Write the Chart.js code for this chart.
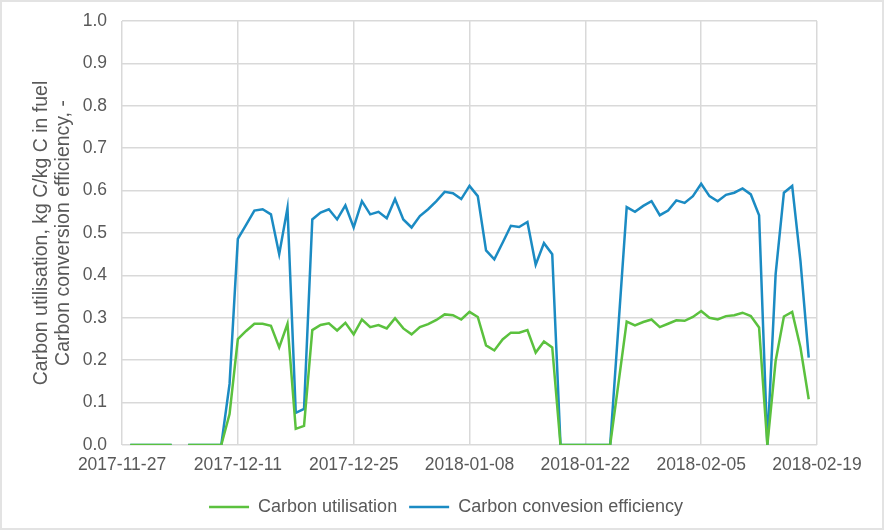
<!DOCTYPE html>
<html>
<head>
<meta charset="utf-8">
<script src="https://cdn.jsdelivr.net/npm/chart.js@4/dist/chart.umd.min.js"></script>
<style>
    html, body { margin: 0; padding: 0; background: #ffffff; }
    #wrap { width: 884px; height: 530px; position: relative; }
</style>
</head>
<body>
<div id="wrap"><canvas id="chart" width="884" height="530"></canvas></div>
<script>
// Data (daily readings, null = no value that day)
const startDate = '2017-11-27';
const dates = [
    '2017-11-28', '2017-11-29', '2017-11-30', '2017-12-01', '2017-12-02', '2017-12-03', '2017-12-04',
    '2017-12-05', '2017-12-06', '2017-12-07', '2017-12-08', '2017-12-09', '2017-12-10', '2017-12-11',
    '2017-12-12', '2017-12-13', '2017-12-14', '2017-12-15', '2017-12-16', '2017-12-17', '2017-12-18',
    '2017-12-19', '2017-12-20', '2017-12-21', '2017-12-22', '2017-12-23', '2017-12-24', '2017-12-25',
    '2017-12-26', '2017-12-27', '2017-12-28', '2017-12-29', '2017-12-30', '2017-12-31', '2018-01-01',
    '2018-01-02', '2018-01-03', '2018-01-04', '2018-01-05', '2018-01-06', '2018-01-07', '2018-01-08',
    '2018-01-09', '2018-01-10', '2018-01-11', '2018-01-12', '2018-01-13', '2018-01-14', '2018-01-15',
    '2018-01-16', '2018-01-17', '2018-01-18', '2018-01-19', '2018-01-20', '2018-01-21', '2018-01-22',
    '2018-01-23', '2018-01-24', '2018-01-25', '2018-01-26', '2018-01-27', '2018-01-28', '2018-01-29',
    '2018-01-30', '2018-01-31', '2018-02-01', '2018-02-02', '2018-02-03', '2018-02-04', '2018-02-05',
    '2018-02-06', '2018-02-07', '2018-02-08', '2018-02-09', '2018-02-10', '2018-02-11', '2018-02-12',
    '2018-02-13', '2018-02-14', '2018-02-15', '2018-02-16', '2018-02-17', '2018-02-18'
];
const carbonUtilisation = [
    0, 0, 0, 0, 0, 0, null,
    0, 0, 0, 0, 0, 0.073, 0.25,
    0.269, 0.286, 0.286, 0.281, 0.23, 0.286, 0.038,
    0.045, 0.271, 0.283, 0.287, 0.27, 0.288, 0.261,
    0.296, 0.278, 0.283, 0.275, 0.299, 0.275, 0.261,
    0.278, 0.285, 0.295, 0.308, 0.306, 0.296, 0.314,
    0.302, 0.235, 0.223, 0.249, 0.265, 0.265, 0.271,
    0.218, 0.244, 0.23, 0, 0, 0, 0,
    0, 0, 0, 0.145, 0.291, 0.282, 0.29,
    0.296, 0.278, 0.286, 0.294, 0.293, 0.302, 0.316,
    0.30, 0.296, 0.304, 0.306, 0.312, 0.304, 0.277,
    0, 0.198, 0.303, 0.314, 0.23, 0.108
];
const carbonConversion = [
    0, 0, 0, 0, 0, 0, null,
    0, 0, 0, 0, 0, 0.144, 0.486,
    0.519, 0.553, 0.556, 0.544, 0.45, 0.559, 0.076,
    0.085, 0.532, 0.548, 0.556, 0.532, 0.565, 0.513,
    0.575, 0.544, 0.55, 0.535, 0.58, 0.532, 0.513,
    0.54, 0.556, 0.575, 0.597, 0.594, 0.58, 0.611,
    0.587, 0.459, 0.438, 0.477, 0.517, 0.514, 0.526,
    0.425, 0.476, 0.45, 0, 0, 0, 0,
    0, 0, 0, 0.28, 0.561, 0.55, 0.564,
    0.575, 0.542, 0.553, 0.577, 0.571, 0.587, 0.616,
    0.587, 0.575, 0.59, 0.595, 0.605, 0.591, 0.542,
    0, 0.403, 0.595, 0.611, 0.434, 0.206
];
const tickLabels = ['2017-11-27', '2017-12-11', '2017-12-25', '2018-01-08', '2018-01-22', '2018-02-05', '2018-02-19'];

const DAY = 24 * 3600 * 1000;
const t0 = Date.parse(startDate);
const dayIndex = (d) => Math.round((Date.parse(d) - t0) / DAY);

function toPoints(values) {
    return dates.map((d, i) => ({ x: dayIndex(d), y: values[i] }));
}

const textColor = '#595959';
const gridColor = '#d9d9d9';
const family = 'Liberation Sans, Arial, sans-serif';
const font = { family: family, size: 17.5 };

// light frame around the whole chart
const framePlugin = {
    id: 'frame',
    beforeDraw(chart) {
        const ctx = chart.ctx;
        ctx.save();
        ctx.fillStyle = '#ffffff';
        ctx.fillRect(0, 0, chart.width, chart.height);
        ctx.strokeStyle = '#e3e3e3';
        ctx.lineWidth = 2;
        ctx.strokeRect(1, 1, chart.width - 2, chart.height - 2);
        ctx.restore();
    }
};

new Chart(document.getElementById('chart'), {
    type: 'line',
    data: {
        datasets: [
            {
                label: 'Carbon utilisation',
                data: toPoints(carbonUtilisation),
                borderColor: '#5bc13e',
                backgroundColor: '#5bc13e',
                borderWidth: 2.5,
                pointRadius: 0,
                tension: 0
            },
            {
                label: 'Carbon convesion efficiency',
                data: toPoints(carbonConversion),
                borderColor: '#1b8bc3',
                backgroundColor: '#1b8bc3',
                borderWidth: 2.5,
                pointRadius: 0,
                tension: 0
            }
        ]
    },
    options: {
        responsive: false,
        animation: false,
        layout: { padding: { left: 8, right: 0, top: 21, bottom: 4 } },
        plugins: {
            legend: {
                position: 'bottom',
                labels: {
                    color: textColor,
                    font: { family: family, size: 18 },
                    usePointStyle: true,
                    pointStyle: 'line',
                    pointStyleWidth: 40,
                    padding: 12
                }
            },
            tooltip: { enabled: false }
        },
        scales: {
            x: {
                type: 'linear',
                min: 0,
                max: dayIndex(tickLabels[tickLabels.length - 1]),
                afterBuildTicks: (scale) => {
                    scale.ticks = tickLabels.map(l => ({ value: dayIndex(l) }));
                },
                ticks: {
                    color: textColor,
                    font: font,
                    padding: 10,
                    maxRotation: 0,
                    autoSkip: false,
                    callback: (v) => tickLabels.find(l => dayIndex(l) === v) || ''
                },
                grid: { color: gridColor, lineWidth: 1.5, drawTicks: false },
                border: { display: false },
                afterFit: (scale) => { scale.height = 41; }
            },
            y: {
                min: 0,
                max: 1,
                ticks: {
                    stepSize: 0.1,
                    color: textColor,
                    font: font,
                    padding: 15,
                    callback: (v) => v.toFixed(1)
                },
                grid: { color: gridColor, lineWidth: 1.5, drawTicks: false },
                border: { display: false },
                title: {
                    display: true,
                    text: ['Carbon utilisation, kg C/kg C in fuel', 'Carbon conversion efficiency, -'],
                    color: textColor,
                    font: { family: family, size: 19.5, lineHeight: 1.13 },
                    padding: { top: 23, bottom: 0 }
                },
                afterFit: (scale) => {
                    scale.width = 114;
                    // keep the label padding from pushing the plot top down
                    scale.paddingTop = 5;
                    scale.paddingBottom = 5;
                }
            },
            // empty right-hand strip so the plot stops where the reference does
            yRight: {
                position: 'right',
                display: true,
                ticks: { display: false },
                grid: { display: false },
                border: { display: false },
                afterFit: (scale) => { scale.width = 67; }
            }
        }
    },
    plugins: [framePlugin]
});
</script>
</body>
</html>
